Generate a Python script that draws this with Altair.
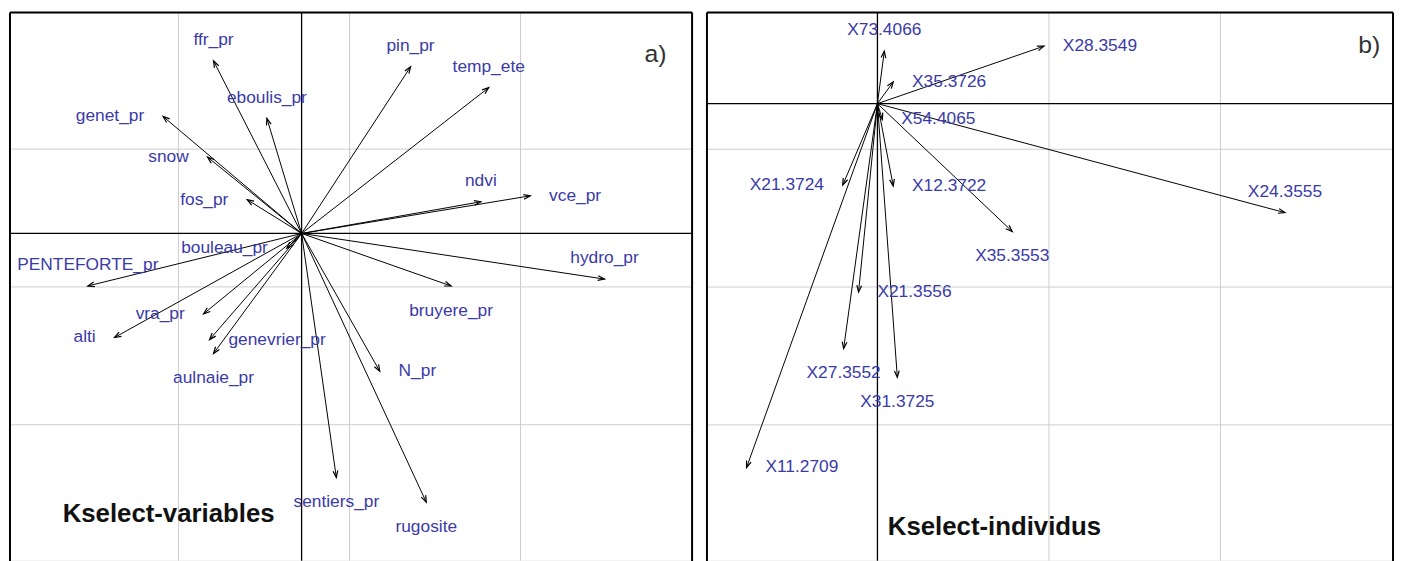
import math
import altair as alt
import pandas as pd

# ---------------- Panel a : variables ----------------
var_names = ["ffr_pr", "eboulis_pr", "genet_pr", "snow", "fos_pr", "bouleau_pr",
             "PENTEFORTE_pr", "vra_pr", "alti", "genevrier_pr", "aulnaie_pr",
             "sentiers_pr", "rugosite", "N_pr", "bruyere_pr", "hydro_pr",
             "vce_pr", "ndvi", "temp_ete", "pin_pr"]
var_x = [-0.515, -0.203, -0.810, -0.550, -0.318, -0.087,
         -1.250, -0.573, -1.094, -0.538, -0.515,
         0.203, 0.729, 0.457, 0.874, 1.771,
         1.337, 1.048, 1.094, 0.637]
var_y = [1.252, 0.835, 0.849, 0.554, 0.245, -0.108,
         -0.381, -0.583, -0.755, -0.770, -0.871,
         -1.770, -1.950, -1.000, -0.381, -0.331,
         0.273, 0.230, 1.058, 1.209]
var_side = ["top", "top", "left", "left", "left", "left",
            "top", "left", "left", "right", "bottom",
            "bottom", "bottom", "right", "bottom", "top",
            "right", "top", "top", "top"]
a_grid_x = [-0.72, 0.28, 1.28]
a_grid_y = [0.612, -0.388, -1.388]
a_xdom = [-1.705, 2.283]
a_ydom = [-2.374, 1.604]

# ---------------- Panel b : individus ----------------
ind_names = ["X73.4066", "X35.3726", "X54.4065", "X28.3549", "X24.3555",
             "X35.3553", "X21.3724", "X12.3722", "X21.3556", "X27.3552",
             "X31.3725", "X11.2709"]
ind_x = [0.040, 0.092, 0.029, 0.971, 2.376,
         0.786, -0.202, 0.092, -0.110, -0.197,
         0.116, -0.763]
ind_y = [0.381, 0.158, -0.115, 0.417, -0.791,
         -0.928, -0.590, -0.597, -1.367, -1.777,
         -1.986, -2.640]
ind_side = ["top", "right", "right", "right", "top",
            "bottom", "left", "right", "right", "bottom",
            "bottom", "right"]
b_grid_x = [0.0, 1.0, 2.0]
b_grid_y = [-0.331, -1.331, -2.331]
b_xdom = [-0.994, 3.006]
b_ydom = [-3.316, 0.662]

LABEL_COLOR = "#3a3aa8"
FONT = "Liberation Sans"
ARROW_HEAD = "M -0.36 1 L 0 0 L 0.36 1"


def panel(names, xs, ys, sides, xdom, ydom, gx, gy, w, h,
          tag, tag_xy, title, title_xy):
    sx = w / (xdom[1] - xdom[0])
    sy = h / (ydom[1] - ydom[0])
    df = pd.DataFrame({"name": names, "x": xs, "y": ys, "side": sides})
    df["x0"] = 0.0
    df["y0"] = 0.0
    df["ang"] = [math.degrees(math.atan2(x * sx, y * sy)) % 360 for x, y in zip(xs, ys)]

    xs_ = alt.Scale(domain=xdom, nice=False, zero=False)
    ys_ = alt.Scale(domain=ydom, nice=False, zero=False)

    gxd = pd.DataFrame({"g": gx})
    gyd = pd.DataFrame({"g": gy})
    zero = pd.DataFrame({"z": [0.0]})

    grid_v = alt.Chart(gxd).mark_rule(color="#cccccc", strokeWidth=1).encode(
        x=alt.X("g:Q", scale=xs_, axis=None))
    grid_h = alt.Chart(gyd).mark_rule(color="#cccccc", strokeWidth=1).encode(
        y=alt.Y("g:Q", scale=ys_, axis=None))
    ax_v = alt.Chart(zero).mark_rule(color="black", strokeWidth=1.3).encode(
        x=alt.X("z:Q", scale=xs_, axis=None))
    ax_h = alt.Chart(zero).mark_rule(color="black", strokeWidth=1.3).encode(
        y=alt.Y("z:Q", scale=ys_, axis=None))

    base = alt.Chart(df)
    arrows = base.mark_rule(color="black", strokeWidth=1).encode(
        x=alt.X("x0:Q", scale=xs_, axis=None),
        y=alt.Y("y0:Q", scale=ys_, axis=None),
        x2="x:Q", y2="y:Q")
    heads = base.mark_point(shape=ARROW_HEAD, filled=False, stroke="black",
                            strokeWidth=1.2, size=180, opacity=1).encode(
        x=alt.X("x:Q", scale=xs_, axis=None),
        y=alt.Y("y:Q", scale=ys_, axis=None),
        angle=alt.Angle("ang:Q", scale=None))

    placements = {
        "top": dict(align="center", baseline="middle", dx=0, dy=-21),
        "bottom": dict(align="center", baseline="middle", dx=0, dy=25),
        "left": dict(align="right", baseline="middle", dx=-19, dy=0),
        "right": dict(align="left", baseline="middle", dx=19, dy=0),
    }
    labels = []
    for side, opts in placements.items():
        labels.append(
            base.transform_filter(alt.datum.side == side)
            .mark_text(font=FONT, fontSize=17.5, color=LABEL_COLOR, **opts)
            .encode(x=alt.X("x:Q", scale=xs_, axis=None),
                    y=alt.Y("y:Q", scale=ys_, axis=None),
                    text="name:N"))

    tag_mark = alt.Chart(pd.DataFrame({"t": [tag]})).mark_text(
        font=FONT, fontSize=25, color="#333333", align="center", baseline="middle"
    ).encode(x=alt.value(tag_xy[0]), y=alt.value(tag_xy[1]), text="t:N")
    title_mark = alt.Chart(pd.DataFrame({"t": [title]})).mark_text(
        font=FONT, fontSize=26, fontWeight="bold", color="#111111",
        align="center", baseline="middle"
    ).encode(x=alt.value(title_xy[0]), y=alt.value(title_xy[1]), text="t:N")

    frame_src = pd.DataFrame({"k": [0]})
    frame_top = alt.Chart(frame_src).mark_rule(color="black", strokeWidth=2).encode(
        x=alt.value(0), x2=alt.value(w), y=alt.value(0))
    frame_left = alt.Chart(frame_src).mark_rule(color="black", strokeWidth=2).encode(
        x=alt.value(0), y=alt.value(0), y2=alt.value(h + 5))
    frame_right = alt.Chart(frame_src).mark_rule(color="black", strokeWidth=2).encode(
        x=alt.value(w), y=alt.value(0), y2=alt.value(h + 5))

    return alt.layer(grid_v, grid_h, ax_v, ax_h, arrows, heads, *labels,
                     tag_mark, title_mark, frame_top, frame_left, frame_right
                     ).properties(width=w, height=h)


pa = panel(var_names, var_x, var_y, var_side, a_xdom, a_ydom, a_grid_x, a_grid_y,
           688, 553, "a)", (651, 42), "Kselect-variables", (160, 506))
pb = panel(ind_names, ind_x, ind_y, ind_side, b_xdom, b_ydom, b_grid_x, b_grid_y,
           692, 553, "b)", (668, 33), "Kselect-individus", (290, 519))

chart = alt.hconcat(pa, pb, spacing=11).properties(padding=0).configure_view(
    stroke=None).configure(background="white")

chart.save("out.html", embed_options={"renderer": "svg", "actions": False})
